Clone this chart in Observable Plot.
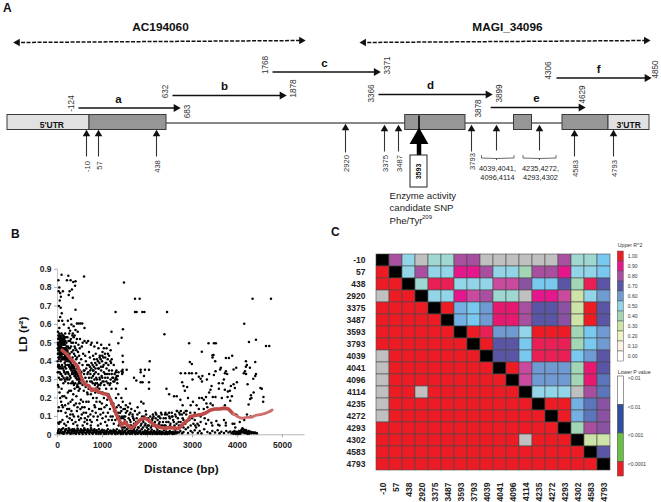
<!DOCTYPE html>
<html><head><meta charset="utf-8">
<script src="https://cdn.jsdelivr.net/npm/d3@7"></script>
<script src="https://cdn.jsdelivr.net/npm/@observablehq/plot@0.6"></script>
<style>
html,body{margin:0;padding:0;background:#fff;}
#root{position:relative;width:661px;height:502px;overflow:hidden;font-family:"Liberation Sans",Arial,sans-serif;}
#root>svg,#root>div{position:absolute;}
.tag{font-weight:bold;font-size:12px;color:#111;}
</style></head><body><div id="root"></div>
<script>
// ---------- Panel A: gene map (coordinates are bp along the gene) ----------
const fragments = [
 {name:"a",from:-124,to:683,lane:107.5,mid:188},
 {name:"b",from:632,to:1878,lane:95,mid:1214},
 {name:"c",from:1768,to:3371,lane:71.5,mid:2561},
 {name:"d",from:3366,to:3878,lane:94,mid:3634},
 {name:"e",from:3899,to:4629,lane:107,mid:4242},
 {name:"f",from:4306,to:4850,lane:77.5,mid:4672}];
const geneRegions = [
 {name:"5'UTR",from:-300,to:0,utr:true,mid:-190},
 {name:"",from:0,to:560},{name:"",from:3500,to:3760},{name:"",from:4120,to:4200},{name:"",from:4330,to:4700},
 {name:"3'UTR",from:4700,to:4850,utr:true,mid:4817}];
const loci = [
 {name:"AC194060",from:-280,to:2200,mid:487},
 {name:"MAGI_34096",from:3140,to:4848,mid:4045}];
const snpArrows = [
 {pos:-10,base:156,tip:131,label:"-10",ly:166},{pos:57,base:156,tip:131,label:"57",ly:165},{pos:438,base:156,tip:131,label:"438",ly:166},
 {pos:2920,base:152,tip:125,label:"2920",ly:163},{pos:3375,base:151,tip:126,label:"3375",ly:163},{pos:3487,base:151,tip:126,label:"3487",ly:163},
 {pos:3793,base:151,tip:126,label:"3793",ly:161},{pos:3920,base:150,tip:126,label:"",ly:0},{pos:4270,base:150,tip:126,label:"",ly:0},
 {pos:4583,base:156,tip:131,label:"4583",ly:168},{pos:4793,base:156,tip:131,label:"4793",ly:168}];
const snpGroups = [
 {label:"4039,4041,\n4096,4114",from:3840,to:4120,mid:3920},
 {label:"4235,4272,\n4293,4302",from:4160,to:4304,mid:4270}];
const knotBp = [-300,-124,-10,0,57,438,560,632,683,1768,1878,2920,3366,3371,3375,3487,3500,3593,3760,3793,3840,3878,3899,3920,4120,4200,4270,4304,4330,4583,4629,4700,4793,4850];
const knotPx = [7,78,86,89,98,156,166,172,178,272,284,345,378,378.2,384,398,404.7,418.5,465,471,481,490,490.2,496,513.5,531.5,539,555.5,562,574,583,608,613,649];

// ---------- Panel B: pairwise LD against distance ----------
const ldHigh = [[20,.84],[25,.78],[40,.8],[60,.77],[50,.73],[75,.75],[90,.87],[30,.7],[70,.69],[95,.66],[120,.78],[30,.62],[60,.64],[105,.62],[140,.6],[40,.58],[10,.56],[90,.55],[140,.53],[170,.55],[240,.865],[210,.84],[290,.84],[350,.83],[390,.81],[400,.835],[320,.79],[270,.78],[250,.76],[340,.745],[400,.68],[590,.86],[300,.63],[310,.6],[250,.58],[430,.605],[470,.605],[510,.605],[550,.605],[360,.59],[400,.57],[450,.56],[600,.58],[230,.62],[280,.565],[340,.55],[380,.54],[430,.52],[500,.52],[560,.5],[15,.52],[25,.5],[35,.53],[45,.49],[55,.51],[65,.47],[75,.52],[85,.49],[95,.46],[105,.5],[115,.47],[125,.44],[135,.49],[145,.46],[155,.5],[165,.43],[175,.47],[185,.45],[195,.42],[205,.48],[215,.41],[225,.45],[235,.4],[245,.51],[255,.43],[265,.38],[275,.47],[285,.4],[295,.52],[305,.37],[315,.45],[325,.36],[335,.42],[345,.5],[355,.35],[365,.44],[375,.39],[385,.34],[395,.47],[405,.33],[415,.41],[425,.36],[440,.32],[455,.45],[470,.31],[485,.39],[500,.35],[5,.47],[8,.44],[12,.49],[18,.46],[22,.42],[28,.47],[32,.44],[38,.41],[42,.55],[48,.45],[52,.43],[58,.54],[62,.44],[68,.42],[72,.5],[78,.46],[82,.53],[88,.43],[92,.51],[98,.44],[102,.41],[108,.54],[112,.45],[118,.52],[122,.49],[128,.42],[132,.54],[138,.44],[142,.51],[148,.42],[152,.47],[158,.39],[162,.53],[168,.45],[172,.41],[178,.51],[182,.38],[188,.53],[192,.46],[198,.5],[210,.44],[220,.53],[230,.48],[240,.43],[250,.47],[260,.55],[270,.44],[280,.51],[290,.36],[300,.48],[310,.5],[320,.41],[330,.54],[340,.38],[350,.46],[360,.53],[370,.37],[380,.48],[390,.43],[410,.5],[420,.46],[435,.42],[450,.36],[465,.49],[480,.43],[495,.47],[510,.33],[525,.41],[540,.48],[555,.38],[570,.44],[585,.35],[600,.51],[615,.43],[630,.4],[645,.5],[660,.38],[680,.51],[700,.45],[720,.42],[740,.49],[760,.5],[790,.43],[820,.48],[850,.44],[880,.5],[910,.47],[940,.43],[970,.49],[1000,.45],[1030,.47],[1060,.42],[1090,.47],[1120,.44],[1150,.49],[1180,.46],[1290,.668],[1200,.56],[1351,.498],[1425,.528],[1454,.574],[1477,.828],[1722,.74],[1826,.74],[1722,.668],[1759,.668],[1886,.668],[1930,.668],[2435,.668],[2376,.547]];
const ldDense = [[10,.5],[20,.54],[30,.48],[40,.52],[50,.47],[60,.5],[70,.53],[80,.48],[90,.51],[100,.47],[110,.52],[120,.46],[130,.5],[140,.47],[150,.52],[160,.45],[170,.49],[180,.43],[190,.47],[200,.44],[215,.46],[15,.44],[25,.46],[35,.42],[45,.44],[55,.46],[65,.5],[75,.44],[85,.46],[95,.41],[105,.45],[115,.42],[125,.47],[135,.41],[145,.44],[155,.41],[165,.47],[175,.43],[185,.4],[195,.44],[205,.41],[220,.42],[232,.38],[245,.41],[258,.37],[270,.4],[282,.36],[295,.39],[308,.35],[320,.38],[332,.34],[345,.37],[358,.33],[370,.36],[382,.32],[395,.35],[408,.31],[420,.34],[432,.3],[445,.33],[458,.3],[470,.32],[482,.29],[495,.31],[508,.28],[520,.3],[5,.4],[12,.37],[22,.34],[33,.38],[48,.34],[55,.37],[68,.33],[85,.36],[90,.3],[105,.32],[125,.36],[135,.31],[150,.34],[165,.37],[178,.33],[190,.36],[205,.34],[215,.3],[245,.33],[275,.32],[305,.28],[335,.29],[365,.27],[395,.28],[430,.26],[460,.26],[495,.25],[555,.27],[585,.24],[625,.26],[660,.23],[690,.25],[740,.22],[780,.25],[840,.23],[870,.2],[930,.25],[1000,.23],[1080,.25],[1130,.22],[1200,.25],[1300,.25],[1350,.22],[665,.33],[695,.38],[725,.35],[755,.39],[785,.35],[815,.41],[845,.36],[875,.41],[905,.36],[935,.42],[965,.37],[995,.43],[1025,.38],[1055,.44],[1085,.39],[1115,.41],[1145,.43],[1175,.4],[1205,.41],[725,.29],[755,.31],[785,.28],[815,.33],[845,.28],[875,.3],[905,.27],[935,.31],[965,.28],[995,.31],[1025,.29],[1055,.33],[1085,.29],[1115,.31],[1145,.35],[1175,.28],[1205,.33],[1235,.31],[1265,.29],[1295,.34],[1325,.3],[1355,.34],[25,.26],[45,.23],[60,.2],[80,.18],[100,.16],[170,.16],[195,.2],[215,.14],[285,.11],[320,.08],[365,.1],[410,.17],[445,.15],[480,.08],[510,.14],[540,.11],[565,.18],[600,.15],[635,.12],[655,.08],[690,.18],[725,.08],[775,.13],[800,.1],[835,.15],[865,.18],[895,.1],[925,.14],[955,.11],[985,.17],[1015,.12],[1045,.15],[1075,.1],[1105,.19],[1135,.08],[1165,.14],[1195,.17],[1225,.1],[1255,.13],[1285,.08],[1315,.15],[1345,.12],[1375,.1],[1405,.15],[1435,.1],[1465,.14],[1495,.08]];
const ldMid = [[600,.35],[640,.36],[680,.34],[720,.37],[750,.36],[780,.38],[810,.37],[840,.39],[870,.38],[900,.4],[930,.39],[960,.41],[990,.4],[1020,.42],[700,.31],[730,.33],[760,.29],[790,.32],[820,.3],[850,.34],[880,.28],[910,.33],[940,.3],[970,.35],[1000,.29],[1030,.34],[1060,.31],[1090,.36],[1120,.28],[1150,.33],[1180,.3],[1210,.35],[1240,.29],[1270,.33],[1300,.31],[1330,.28],[800,.35],[830,.27],[860,.31],[890,.26],[920,.36],[950,.27],[980,.32],[1010,.37],[1040,.27],[1070,.39],[1100,.33],[1130,.38],[1160,.27],[1190,.39],[1220,.31],[1250,.38],[1280,.3],[1310,.35],[1340,.32],[650,.29],[620,.31],[590,.33],[560,.29],[530,.34],[500,.3],[470,.28],[440,.27],[410,.31],[380,.32],[350,.28],[320,.33],[290,.31],[260,.3],[230,.34],[200,.31],[170,.29],[140,.35],[110,.37],[80,.33],[60,.3],[30,.31],[10,.27],[5,.34],[15,.38],[40,.36],[70,.4],[100,.38],[160,.3],[220,.31],[240,.28],[260,.24],[230,.23],[130,.28],[90,.25],[110,.21],[150,.21],[300,.24],[350,.22],[330,.19],[380,.25],[420,.21],[470,.24],[290,.18],[260,.14],[120,.15],[80,.13],[30,.15],[20,.13],[70,.07],[30,.06],[50,.07],[20,.065],[180,.12],[210,.1],[240,.17],[270,.09],[310,.13],[340,.11],[370,.16],[400,.07],[430,.13],[460,.1],[490,.17],[520,.19],[550,.15],[580,.12],[610,.09],[640,.18],[670,.22],[700,.14],[730,.11],[760,.07],[790,.2],[820,.16],[850,.12],[880,.08],[910,.23],[940,.18],[970,.14],[1000,.09],[1030,.2],[1060,.07],[1090,.16],[1120,.12],[1150,.21],[1180,.1],[1210,.08],[1240,.17],[1270,.13],[1300,.2],[1330,.09],[1360,.16],[1390,.12],[520,.09],[600,.07],[680,.1],[110,.08],[150,.06],[190,.05],[230,.07],[350,.06],[440,.05],[560,.05],[660,.06],[740,.05],[900,.05],[960,.06],[1100,.05],[1250,.06],[1380,.06],[1420,.2],[1450,.18],[1480,.1],[1520,.16],[1550,.13],[1580,.09],[1610,.17],[1640,.14],[1670,.11],[1700,.08],[1450,.34],[1537,.353],[1447,.43],[1454,.395],[1447,.353],[1425,.345],[1436,.33],[1314,.32],[1521,.25],[1700,.31],[1752,.295],[1848,.285],[1890,.285],[2033,.285],[2033,.25],[1848,.353],[1848,.34],[1944,.353],[2033,.353],[1922,.32],[2049,.4],[2421,.25],[2480,.22],[2590,.21],[2650,.21]];
const ldFloorCloud = [[1400,.07],[1430,.04],[1460,.09],[1490,.06],[1520,.12],[1550,.05],[1580,.04],[1610,.08],[1640,.05],[1670,.1],[1700,.06],[1730,.05],[1760,.09],[1790,.07],[1820,.12],[1850,.05],[1880,.1],[1910,.07],[1940,.05],[1970,.11],[2000,.08],[2030,.05],[2060,.1],[2090,.07],[2120,.11],[2150,.06],[2180,.09],[2210,.05],[2240,.1],[2270,.07],[2300,.12],[2330,.05],[2360,.09],[2390,.11],[2420,.07],[2450,.04],[2480,.1],[2510,.06],[2540,.12],[2570,.08],[2600,.05],[2630,.1],[2660,.13],[2690,.07],[2720,.11],[2750,.05],[2780,.09],[2810,.12],[2840,.06],[2870,.13],[2900,.04],[2930,.08],[2960,.05],[2990,.09],[3020,.06],[3050,.08],[3080,.04],[3110,.06],[3140,.05],[1420,.13],[1500,.14],[1620,.12],[1720,.13],[1780,.15],[1860,.18],[1910,.17],[1960,.13],[2110,.09],[2180,.12],[2260,.1],[2400,.12],[2480,.12],[2540,.1],[2740,.13],[2800,.08],[2860,.11],[1360,.05],[1500,.04],[1620,.05],[1790,.04],[1900,.04],[2000,.05],[2100,.05],[2200,.04],[2300,.05],[2400,.05],[2500,.05],[2600,.04],[2700,.05],[2800,.04],[1415,.09],[1445,.06],[1475,.04],[1505,.1],[1535,.07],[1565,.15],[1595,.11],[1625,.07],[1655,.03],[1685,.09],[1715,.04],[1745,.07],[1775,.11],[1805,.04],[1835,.08],[1865,.06],[1895,.08],[1925,.1],[1955,.06],[1985,.04],[2015,.09],[2045,.07],[2075,.04],[2105,.08],[2135,.1],[2165,.07],[2195,.11],[2225,.08],[2255,.06],[2285,.09],[2315,.11],[2345,.07],[2375,.05],[2405,.09],[2435,.11],[2465,.07],[2495,.09],[2525,.04],[2555,.1],[2585,.07],[2615,.11],[2645,.06],[2675,.09],[2705,.12],[2735,.07],[2765,.11]];
const ldFar = [[2739,.335],[2836,.335],[2925,.335],[2985,.335],[2940,.395],[2985,.385],[2925,.498],[3356,.498],[3476,.498],[3207,.451],[3467,.434],[3445,.42],[2770,.285],[2800,.265],[2880,.26],[3000,.3],[3080,.335],[3140,.315],[3180,.305],[3220,.32],[3210,.29],[3320,.3],[3370,.33],[3519,.497],[4335,.74],[4744,.74],[4149,.603],[4254,.505],[4410,.517],[4633,.483],[4706,.483],[3742,.418],[3808,.418],[3882,.43],[3446,.433],[3504,.4],[4187,.4],[4394,.395],[4209,.38],[4187,.37],[4276,.365],[3972,.365],[3913,.355],[3630,.365],[3615,.355],[3742,.345],[3720,.335],[3770,.33],[3512,.345],[3475,.325],[4165,.345],[4140,.335],[4190,.33],[4410,.33],[4395,.32],[4350,.305],[3697,.3],[3670,.28],[3987,.285],[3913,.275],[3853,.265],[3586,.28],[3423,.265],[3400,.245],[3586,.25],[3719,.245],[3786,.235],[3830,.24],[3942,.255],[4224,.275],[4510,.255],[4540,.25],[4358,.23],[4298,.215],[4310,.2],[4280,.195],[4577,.205],[4570,.18],[3452,.205],[3510,.205],[3652,.2],[3779,.205],[3875,.21],[3838,.185],[3400,.17],[3450,.16],[3720,.16],[4247,.165],[3550,.14],[3650,.14],[3730,.145],[3850,.13],[3990,.105],[3960,.11],[3700,.08],[3740,.065],[3530,.075],[3420,.065],[3570,.055],[3740,.05],[3890,.06],[3150,.2],[3210,.2],[3250,.19],[3300,.205],[3090,.16],[3140,.14],[3250,.14],[3310,.17],[3370,.23],[3330,.15],[2830,.24],[2900,.2],[2960,.16],[3010,.18],[2730,.19],[2780,.16],[2650,.13],[2850,.13],[2950,.12],[3050,.12],[3180,.1],[3270,.09],[3350,.08],[3060,.05],[3180,.07],[3300,.06],[3440,.05],[3600,.05],[4150,.08],[4210,.11],[4290,.1],[4050,.07],[3930,.06],[3950,.04]];
const ldFloor = [[5,.01],[30,.03],[55,.012],[80,.025],[105,.008],[125,.035],[150,.015],[175,.028],[200,.01],[225,.022],[250,.035],[270,.012],[295,.028],[320,.008],[345,.02],[370,.03],[395,.012],[420,.024],[445,.034],[470,.01],[495,.02],[520,.03],[545,.012],[570,.025],[595,.035],[620,.01],[645,.022],[670,.03],[695,.012],[720,.024],[745,.036],[770,.01],[795,.02],[820,.03],[845,.012],[870,.025],[895,.015],[920,.03],[945,.01],[970,.02],[995,.028],[1020,.012],[1045,.024],[1070,.008],[1095,.02],[1120,.03],[1145,.012],[1170,.022],[1195,.008],[1220,.018],[1245,.028],[1270,.01],[1295,.02],[1320,.03],[1345,.012],[1370,.022],[1395,.008],[1420,.018],[1445,.028],[1470,.012],[1495,.02],[1520,.008],[1545,.03],[1570,.016],[1595,.008],[1620,.024],[1645,.012],[1670,.02],[1695,.03],[1720,.008],[1745,.018],[1770,.028],[1795,.012],[1820,.02],[1845,.008],[1870,.03],[1895,.016],[1920,.008],[1945,.024],[1970,.012],[1995,.02],[2020,.03],[2045,.008],[2070,.018],[2095,.028],[2120,.012],[2145,.02],[2170,.008],[2195,.016],[2220,.028],[2245,.01],[2270,.02],[2295,.008],[2320,.016],[2345,.01],[2370,.025],[2395,.008],[2420,.018],[2445,.01],[2470,.008],[2495,.02],[2520,.012],[2545,.008],[2570,.016],[2595,.01],[2620,.02],[2645,.008],[2670,.014],[15,.02],[42,.008],[68,.018],[92,.03],[118,.014],[140,.006],[165,.02],[190,.03],[215,.008],[240,.015],[262,.025],[285,.006],[310,.018],[335,.03],[360,.008],[385,.02],[410,.006],[435,.015],[460,.025],[485,.006],[510,.014],[535,.022],[560,.005],[585,.015],[610,.026],[635,.006],[660,.014],[685,.022],[710,.006],[735,.016],[760,.026],[785,.006],[810,.014],[835,.022],[860,.006],[885,.016],[910,.006],[935,.018],[960,.006],[985,.014],[1010,.022],[1035,.006],[1060,.014],[1085,.006],[1110,.016],[1135,.006],[1160,.014],[1185,.022],[1210,.006],[1235,.012],[1260,.02],[1285,.005],[1310,.012],[1335,.006],[1360,.014],[1385,.02],[1410,.005],[1435,.012],[1460,.006],[1485,.014],[1510,.022],[1535,.005],[1560,.012],[1585,.02],[1610,.006],[1635,.014],[1660,.006],[1685,.012],[1710,.02],[1735,.005],[1760,.012],[1785,.006],[1810,.014],[1835,.02],[1860,.005],[1885,.012],[1910,.006],[1935,.014],[1960,.005],[1985,.012],[2010,.006],[2035,.014],[2060,.006],[2085,.012],[2110,.005],[2135,.014],[2160,.006],[2185,.012],[2210,.005],[2235,.014],[2260,.006],[2285,.012],[2310,.005],[2335,.006],[2360,.012],[2385,.005],[2410,.012],[2435,.005],[2460,.014],[2490,.006],[2530,.014],[2560,.005],[2600,.006],[2640,.012],[2700,.012],[2730,.02],[2770,.008],[2800,.015],[2850,.03],[2900,.01],[2960,.02],[3000,.012],[3050,.025],[3120,.01],[3160,.02],[3200,.008],[3260,.03],[3330,.015],[3390,.008],[3440,.02],[3500,.012],[3560,.025],[3600,.008],[3640,.016],[3700,.01],[3750,.02],[3800,.012],[3840,.018],[3870,.008],[3900,.015],[3930,.02],[3950,.01],[3970,.016],[3990,.008],[4010,.014],[4030,.02],[4050,.012],[4070,.022],[4090,.028],[4110,.035],[4130,.03],[4150,.025],[4170,.02],[4190,.026],[4210,.018],[4230,.014],[4250,.02],[4270,.012],[4290,.016],[4310,.008],[4330,.014],[4350,.012],[4370,.008],[4390,.013],[4410,.01],[4430,.008],[4080,.012],[4100,.018],[4120,.014],[4140,.012],[4160,.01],[4180,.012],[4200,.008],[4220,.006],[4260,.006],[3910,.006],[3960,.004],[4020,.005],[4060,.006]];
const ldTrend = [[100,.46],[200,.44],[300,.41],[400,.385],[450,.37],[500,.33],[550,.3],[600,.275],[700,.265],[760,.24],[850,.25],[900,.235],[1000,.225],[1100,.22],[1180,.19],[1250,.15],[1300,.115],[1370,.08],[1420,.05],[1500,.07],[1560,.05],[1650,.035],[1750,.06],[1850,.085],[1950,.09],[2050,.075],[2150,.05],[2300,.04],[2400,.035],[2500,.04],[2600,.035],[2700,.035],[2800,.06],[2900,.08],[2950,.1],[3050,.105],[3200,.11],[3300,.12],[3400,.135],[3500,.14],[3600,.14],[3700,.145],[3800,.14],[3900,.115]];
const ldTrendTail = [[3900,.115],[4000,.1],[4100,.09],[4200,.095],[4300,.095],[4400,.105],[4500,.11],[4600,.115],[4700,.125],[4770,.135]];
const xTicksB = [0,1000,2000,3000,4000,5000];
const yTicksB = [0,.1,.2,.3,.4,.5,.6,.7,.8,.9];

// ---------- Panel C: LD matrix ----------
const snps = ["-10","57","438","2920","3375","3487","3593","3793","4039","4041","4096","4114","4235","4272","4293","4302","4583","4793"];
// upper triangle: R² read from the colour key, row by row after the diagonal (null = no value)
const r2Upper = [
 [.8,.5,null,.45,.45,.8,.8,null,null,null,null,null,null,.8,.45,.45,.55],
 [.5,.8,.5,.5,.9,.9,.8,.5,.5,.4,.8,.8,.9,.5,.5,.55],
 [.45,.95,.95,.5,.5,.5,.85,.85,.75,.55,.55,.7,.4,.95,.7],
 [.5,.5,.9,.85,.8,.45,.45,null,.9,.9,.85,.3,.5,.6],
 [1,.58,.55,.6,.92,.92,.8,.7,.7,.75,.3,1,.7],
 [.58,.55,.6,.92,.92,.8,.7,.7,.75,.3,1,.7],
 [1,.95,.6,.6,.5,1,1,1,.4,.55,.6],
 [1,.7,.7,.55,.95,.95,.95,.4,.55,.6],
 [.7,.7,.55,.95,.95,.95,.55,.6,.7],
 [1,.85,.6,.6,.6,.4,.92,.7],
 [.85,.6,.6,.6,.4,.92,.65],
 [.5,.5,.5,null,.8,.65],
 [1,1,.58,.65,.75],
 [1,.58,.65,.75],
 [.4,.8,.75],
 [.3,.3],
 [.7],
 []];
// lower triangle cells that are not significant-red (grey = no value)
const lowerMissing = [["2920","-10"],["4039","-10"],["4041","-10"],["4096","-10"],["4114","-10"],["4235","-10"],["4272","-10"],["4114","2920"],["4302","4114"]];
const r2Levels = [1,.95,.92,.9,.85,.8,.75,.7,.65,.6,.58,.55,.5,.45,.4,.3,.2,.1,0];
const r2Colors = ["#ed1c24","#ea1f55","#e71870","#e6168c","#c94a9e","#a8509f","#8a52a3","#5a55a5","#5b76ba","#6f9bd2","#74b0e4","#78c8f0","#93d5e8","#9ed8d0","#a3d6b6","#cde3a7","#eff3c6","#fdf1e3","#ffffff"];
const keyR2 = ["1.00","0.90","0.80","0.70","0.60","0.50","0.40","0.30","0.20","0.10","0.00"];
const keyR2Colors = ["#ed1c24","#e6168c","#a8509f","#5a55a5","#6f9bd2","#93d5e8","#a3d6b6","#cde3a7","#eff3c6","#fdf1e3","#ffffff"];
const keyP = [{label:">0.01",from:0,to:1,color:"#ffffff"},{label:"<0.01",from:1,to:2,color:"#2e4f9f"},{label:"<0.001",from:2,to:3,color:"#6abd45"},{label:"<0.0001",from:3,to:3.51,color:"#ed1c24"}];

const root = document.getElementById("root");
const FONT = '"Liberation Sans",Arial,sans-serif';
function place(svg,left,top){svg.style.left=left+"px";svg.style.top=top+"px";root.appendChild(svg);}
function tag(t,left,top){const d=document.createElement("div");d.className="tag";d.textContent=t;d.style.left=left+"px";d.style.top=top+"px";root.appendChild(d);}

// ---- Panel A plot ----
const up = snpArrows, grey="#333";
const braces = snpGroups.flatMap((g,i)=>{const m=g.mid;return [
 {g:i,x:g.from,y:155},{g:i,x:g.from,y:157.5},{g:i,x:m,y:158},{g:i,x:m,y:159.5},{g:i,x:m,y:158},{g:i,x:g.to,y:157.5},{g:i,x:g.to,y:155}];});
const fromLabel={a:[-7.5,-4.5],b:[-7.5,-4],c:[-7.5,-7],d:[-7,-1],e:[8.5,-14],f:[-8.5,-7.5]};
const toLabel={a:[9,3.5],b:[9,-7],c:[9,-6.5],d:[-12,14],e:[-1.5,-13],f:[6,-8.5]};
place(Plot.plot({
 width:661,height:228,margin:0,
 style:{fontFamily:FONT,background:"transparent",overflow:"visible"},
 x:{domain:knotBp,range:knotPx,type:"linear",clamp:false,axis:null},
 y:{domain:[0,228],range:[0,228],axis:null},
 marks:[
  Plot.ruleY([122.5],{x1:0,x2:4700,stroke:"#111",strokeWidth:1}),
  Plot.rect(geneRegions,{x1:"from",x2:"to",y1:()=>114.5,y2:()=>129.5,fill:d=>d.utr?"#e1e1e1":"#969696",stroke:"#3a3a3a",strokeWidth:1}),
  Plot.text(geneRegions.filter(d=>d.utr),{x:"mid",y:()=>124.5,text:"name",fontWeight:"bold",fontSize:8.5,fill:"#111"}),
  Plot.link(loci,{x1:"from",x2:"to",y1:()=>42,y2:()=>40,stroke:"#111",strokeWidth:1.5,strokeDasharray:"4,1.5"}),
  Plot.dot(loci,{x:"to",y:()=>40,symbol:"triangle",r:2.8,rotate:90,fill:"#111",dx:-2}),
  Plot.dot(loci,{x:"from",y:()=>42,symbol:"triangle",r:2.8,rotate:-90,fill:"#111",dx:2}),
  Plot.text(loci,{x:"mid",y:()=>27,text:"name",fontWeight:"bold",fontSize:11.8,fill:"#111"}),
  Plot.link(fragments,{x1:"from",x2:"to",y1:"lane",y2:"lane",stroke:"#111",strokeWidth:1.3}),
  Plot.dot(fragments,{x:"to",y:"lane",symbol:"triangle",r:3,rotate:90,fill:"#111",dx:-2.5}),
  Plot.text(fragments,{x:"mid",y:d=>d.lane-9,text:"name",fontWeight:"bold",fontSize:11.5,fill:"#111"}),
  ...fragments.flatMap(f=>[
   Plot.text([f],{x:"from",y:d=>d.lane+fromLabel[d.name][1],text:d=>String(d.from),rotate:-90,dx:fromLabel[f.name][0],fontSize:8.2,fill:grey}),
   Plot.text([f],{x:"to",y:d=>d.lane+toLabel[d.name][1],text:d=>String(d.to),rotate:-90,dx:toLabel[f.name][0],fontSize:8.2,fill:grey})]),
  Plot.link(up,{x:"pos",y1:"base",y2:"tip",stroke:"#333",strokeWidth:1.1}),
  Plot.dot(up,{x:"pos",y:"tip",symbol:"triangle",r:2.8,fill:"#111",dy:2.5}),
  Plot.text(up.filter(d=>d.label),{x:"pos",y:"ly",text:"label",rotate:-90,dx:1,fontSize:7.6,fill:grey}),
  Plot.line(braces,{x:"x",y:"y",z:"g",stroke:"#444",strokeWidth:.8}),
  Plot.text(snpGroups,{x:"mid",y:()=>172,text:"label",fontSize:7.4,lineHeight:1.3,fill:"#222",dx:1}),
  Plot.link([3593],{x:d=>d,y1:()=>115,y2:()=>131,stroke:"#111",strokeWidth:1.8}),
  Plot.link([3593],{x:d=>d,y1:()=>155,y2:()=>140,stroke:"#000",strokeWidth:4.5}),
  Plot.dot([3593],{x:d=>d,y:()=>138,symbol:"triangle",r:7,fill:"#000"}),
  Plot.rect([3593],{x1:d=>d,x2:d=>d,y1:()=>155,y2:()=>187,insetLeft:-8.5,insetRight:-8.5,fill:"#fff",stroke:"#222",strokeWidth:1}),
  Plot.text(["3593"],{x:()=>3593,y:()=>171,text:d=>d,rotate:-90,fontWeight:"bold",fontSize:7,fill:"#111"}),
  Plot.text(["Enzyme activity\ncandidate SNP\nPhe/Tyr"],{x:()=>3415,y:()=>207,text:d=>d,textAnchor:"start",fontSize:9.6,lineHeight:1.27,fill:"#222"}),
  Plot.text(["209"],{x:()=>3415,y:()=>216.5,text:d=>d,textAnchor:"start",dx:32.5,fontSize:6,fill:"#222"})
 ]}),0,0);

// ---- Panel B plot ----
const ldPairs=[...ldHigh,...ldDense,...ldMid,...ldFloorCloud,...ldFar,...ldFloor].map(([d,r])=>({d,r}));
const trendMain=ldTrend.map(([d,r])=>({d,r})),trendTail=ldTrendTail.map(([d,r])=>({d,r}));
place(Plot.plot({
 width:320,height:230,marginLeft:57,marginRight:15.5,marginTop:18.7,marginBottom:45.7,
 style:{fontFamily:FONT,background:"transparent",overflow:"visible"},
 x:{domain:[0,5500]},y:{domain:[0,.9]},
 marks:[
  Plot.ruleY([0],{stroke:"#b5b5b5",strokeWidth:1}),
  Plot.ruleX([0],{stroke:"#c8c8c8",strokeWidth:1}),
  Plot.axisX({ticks:xTicksB,tickSize:3,tickPadding:4,stroke:"#aaa",fill:"#222",fontSize:8.5,fontWeight:"bold",label:null,tickFormat:d=>String(d)}),
  Plot.axisY({ticks:yTicksB,tickSize:3,tickPadding:3,stroke:"#aaa",fill:"#222",fontSize:8.5,fontWeight:"bold",label:null,tickFormat:d=>d===0?"0":d.toFixed(1)}),
  Plot.dot(ldPairs,{x:"d",y:"r",r:1.25,fill:"#000"}),
  Plot.line(trendMain,{x:"d",y:"r",stroke:"#bd4a47",strokeWidth:3.6,curve:"linear"}),
  Plot.line(trendTail,{x:"d",y:"r",stroke:"#cf6f6c",strokeWidth:2.8,curve:"monotone-x"}),
  Plot.text(["Distance (bp)"],{frameAnchor:"bottom",text:d=>d,dy:38,fontSize:11.8,fontWeight:"bold",fill:"#111"}),
  Plot.text(["LD (r²)"],{frameAnchor:"left",text:d=>d,rotate:-90,dx:-34,fontSize:11.8,fontWeight:"bold",fill:"#111"})
 ]}),0,250);

// ---- Panel C plot ----
const cells=[];
snps.forEach((a,i)=>{
 snps.forEach((b,j)=>{
  if(i===j) cells.push({row:a,col:b,fill:"#000"});
  else if(j>i){const v=r2Upper[i][j-i-1];cells.push({row:a,col:b,fill:v==null?"#c0c0c0":r2Colors[r2Levels.indexOf(v)]});}
  else cells.push({row:a,col:b,fill:lowerMissing.some(m=>m[0]===a&&m[1]===b)?"#c0c0c0":"#ed1c24"});
 });
});
place(Plot.plot({
 width:284,height:262,marginLeft:44,marginRight:1.3,marginTop:8.7,marginBottom:26,
 style:{fontFamily:FONT,background:"transparent",overflow:"visible"},
 x:{domain:snps,padding:0,label:null,tickRotate:-90},
 y:{domain:snps,padding:0,label:null},
 marks:[
  Plot.cell(cells,{x:"col",y:"row",fill:"fill",stroke:"#4a4a4a",strokeWidth:.6}),
  Plot.axisX({tickSize:0,tickPadding:6,tickRotate:-90,fontSize:8.5,fontWeight:"bold",fill:"#222",label:null}),
  Plot.axisY({tickSize:0,tickPadding:9,fontSize:8.5,fontWeight:"bold",fill:"#222",label:null})
 ]}),330,240);

// ---- keys ----
place(Plot.plot({
 width:49,height:122,marginLeft:5.3,marginRight:37.7,marginTop:9,marginBottom:0,
 style:{fontFamily:FONT,background:"transparent",overflow:"visible"},
 y:{domain:keyR2,padding:0,axis:null},
 marks:[
  Plot.cell(keyR2,{y:d=>d,fill:(d,i)=>keyR2Colors[i],stroke:"#555",strokeWidth:.5}),
  Plot.text(keyR2,{y:d=>d,text:d=>d,frameAnchor:"right",textAnchor:"start",dx:4,fontSize:5,fill:"#333"}),
  Plot.text(["Upper R^2"],{frameAnchor:"top-left",text:d=>d,textAnchor:"start",dy:-6,fontSize:5.2,fill:"#333"})
 ]}),612,240);
place(Plot.plot({
 width:49,height:111,marginLeft:5.3,marginRight:37.7,marginTop:11,marginBottom:0,
 style:{fontFamily:FONT,background:"transparent",overflow:"visible"},
 y:{domain:[0,3.51],range:[11,111],axis:null},
 marks:[
  Plot.rect(keyP,{y1:"from",y2:"to",fill:"color",stroke:"#555",strokeWidth:.6}),
  Plot.text(keyP,{y:"from",text:"label",frameAnchor:"right",textAnchor:"start",dx:4,dy:2,fontSize:5,fill:"#333"}),
  Plot.text(["Lower P value"],{frameAnchor:"top-left",text:d=>d,textAnchor:"start",dy:-6,fontSize:5.2,fill:"#333"})
 ]}),612,365);

tag("A",3,1);tag("B",11,227);tag("C",331,225);
</script></body></html>
